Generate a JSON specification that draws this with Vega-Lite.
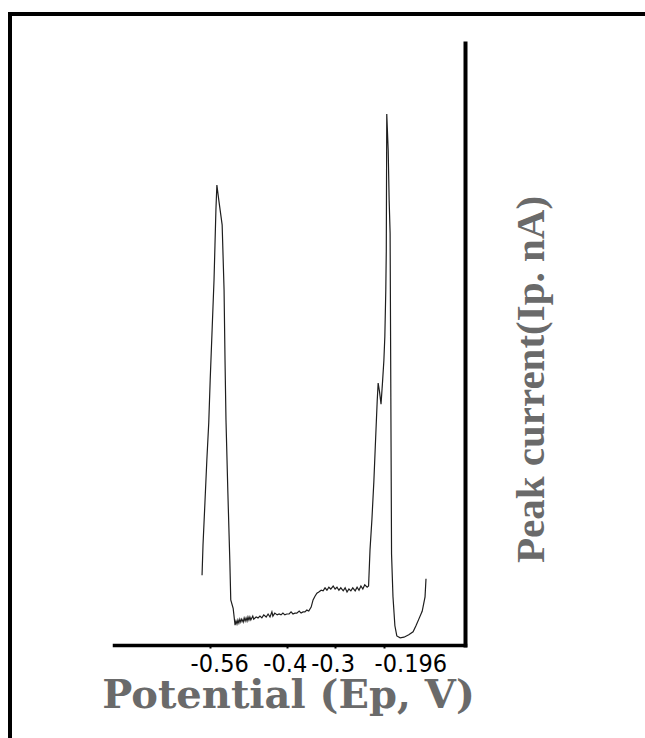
{
  "$schema": "https://vega.github.io/schema/vega-lite/v6.json",
  "autosize": "none",
  "padding": {"left": 10, "top": 14, "right": 0, "bottom": 0},
  "width": 635,
  "height": 724,
  "background": "white",
  "config": {
    "view": {
      "stroke": "black",
      "strokeWidth": 4,
      "strokeCap": "square",
      "strokeDash": [635, 1359, 724]
    }
  },
  "data": {
    "values": [
      {"ep": -0.577, "ip": 11.6}, {"ep": -0.575, "ip": 16.6}, {"ep": -0.571, "ip": 23.6},
      {"ep": -0.567, "ip": 30.7}, {"ep": -0.563, "ip": 36.9}, {"ep": -0.560, "ip": 44.0},
      {"ep": -0.556, "ip": 52.3}, {"ep": -0.552, "ip": 60.6}, {"ep": -0.550, "ip": 66.4},
      {"ep": -0.548, "ip": 72.3}, {"ep": -0.546, "ip": 76.4}, {"ep": -0.542, "ip": 73.9},
      {"ep": -0.535, "ip": 69.8}, {"ep": -0.531, "ip": 59.0}, {"ep": -0.529, "ip": 47.3},
      {"ep": -0.527, "ip": 37.4}, {"ep": -0.523, "ip": 25.2}, {"ep": -0.519, "ip": 14.1},
      {"ep": -0.517, "ip": 7.5}, {"ep": -0.512, "ip": 6.1}, {"ep": -0.508, "ip": 3.3},
      {"ep": -0.506, "ip": 4.0}, {"ep": -0.504, "ip": 3.5}, {"ep": -0.502, "ip": 4.15},
      {"ep": -0.500, "ip": 3.65}, {"ep": -0.498, "ip": 4.3}, {"ep": -0.496, "ip": 3.8},
      {"ep": -0.494, "ip": 4.3}, {"ep": -0.491, "ip": 3.8}, {"ep": -0.489, "ip": 4.5},
      {"ep": -0.487, "ip": 4.0}, {"ep": -0.485, "ip": 4.5}, {"ep": -0.483, "ip": 4.0},
      {"ep": -0.481, "ip": 4.65}, {"ep": -0.479, "ip": 4.15}, {"ep": -0.477, "ip": 4.65},
      {"ep": -0.475, "ip": 4.15}, {"ep": -0.471, "ip": 4.8}, {"ep": -0.469, "ip": 4.3},
      {"ep": -0.464, "ip": 4.65}, {"ep": -0.460, "ip": 4.5}, {"ep": -0.456, "ip": 4.8},
      {"ep": -0.452, "ip": 4.5}, {"ep": -0.448, "ip": 5.0}, {"ep": -0.443, "ip": 4.65},
      {"ep": -0.439, "ip": 5.15}, {"ep": -0.435, "ip": 4.65}, {"ep": -0.431, "ip": 5.5},
      {"ep": -0.429, "ip": 4.8}, {"ep": -0.425, "ip": 5.3}, {"ep": -0.420, "ip": 5.0},
      {"ep": -0.416, "ip": 5.15}, {"ep": -0.412, "ip": 5.0}, {"ep": -0.408, "ip": 5.3},
      {"ep": -0.404, "ip": 5.0}, {"ep": -0.400, "ip": 5.15}, {"ep": -0.395, "ip": 5.15},
      {"ep": -0.391, "ip": 5.5}, {"ep": -0.387, "ip": 5.15}, {"ep": -0.383, "ip": 5.3},
      {"ep": -0.379, "ip": 5.3}, {"ep": -0.374, "ip": 5.65}, {"ep": -0.370, "ip": 5.3},
      {"ep": -0.366, "ip": 5.5}, {"ep": -0.362, "ip": 5.5}, {"ep": -0.358, "ip": 5.8},
      {"ep": -0.354, "ip": 5.65}, {"ep": -0.349, "ip": 6.3}, {"ep": -0.345, "ip": 7.5},
      {"ep": -0.341, "ip": 8.1}, {"ep": -0.337, "ip": 8.6}, {"ep": -0.333, "ip": 8.8},
      {"ep": -0.328, "ip": 9.1}, {"ep": -0.324, "ip": 9.0}, {"ep": -0.320, "ip": 9.5},
      {"ep": -0.316, "ip": 9.1}, {"ep": -0.312, "ip": 9.6}, {"ep": -0.308, "ip": 9.3},
      {"ep": -0.303, "ip": 9.8}, {"ep": -0.299, "ip": 9.3}, {"ep": -0.295, "ip": 9.6},
      {"ep": -0.291, "ip": 9.1}, {"ep": -0.287, "ip": 9.5}, {"ep": -0.282, "ip": 9.0},
      {"ep": -0.278, "ip": 9.5}, {"ep": -0.274, "ip": 8.8}, {"ep": -0.270, "ip": 9.3},
      {"ep": -0.266, "ip": 9.0}, {"ep": -0.262, "ip": 9.5}, {"ep": -0.257, "ip": 9.0},
      {"ep": -0.253, "ip": 9.6}, {"ep": -0.249, "ip": 9.1}, {"ep": -0.245, "ip": 9.8},
      {"ep": -0.241, "ip": 9.3}, {"ep": -0.237, "ip": 10.0}, {"ep": -0.232, "ip": 9.6},
      {"ep": -0.229, "ip": 9.8}, {"ep": -0.226, "ip": 15.8}, {"ep": -0.222, "ip": 20.9},
      {"ep": -0.218, "ip": 27.1}, {"ep": -0.215, "ip": 32.9}, {"ep": -0.211, "ip": 40.5},
      {"ep": -0.209, "ip": 43.5}, {"ep": -0.206, "ip": 42.0}, {"ep": -0.203, "ip": 40.0},
      {"ep": -0.200, "ip": 43.5}, {"ep": -0.197, "ip": 47.3}, {"ep": -0.195, "ip": 51.3},
      {"ep": -0.193, "ip": 59.0}, {"ep": -0.192, "ip": 65.4}, {"ep": -0.191, "ip": 88.2},
      {"ep": -0.188, "ip": 82.2}, {"ep": -0.186, "ip": 73.9}, {"ep": -0.184, "ip": 68.4},
      {"ep": -0.182, "ip": 32.9}, {"ep": -0.181, "ip": 15.1}, {"ep": -0.178, "ip": 8.0},
      {"ep": -0.174, "ip": 3.2}, {"ep": -0.170, "ip": 1.5}, {"ep": -0.163, "ip": 1.2},
      {"ep": -0.155, "ip": 1.3}, {"ep": -0.145, "ip": 1.7}, {"ep": -0.136, "ip": 2.2},
      {"ep": -0.130, "ip": 3.2}, {"ep": -0.124, "ip": 4.3}, {"ep": -0.117, "ip": 5.6},
      {"ep": -0.111, "ip": 8.0}, {"ep": -0.109, "ip": 11.0}
    ]
  },
  "mark": {"type": "line", "color": "#1e1e1e", "strokeWidth": 1.2, "clip": false},
  "encoding": {
    "x": {
      "field": "ep",
      "type": "quantitative",
      "scale": {"domain": [-0.761, -0.0275], "range": [104, 455], "nice": false, "zero": false},
      "axis": {
        "orient": "bottom",
        "offset": -93,
        "values": [-0.56, -0.4, -0.3, -0.196],
        "labelExpr": "'-' + format(abs(datum.value), '.3~f')",
        "grid": false,
        "domainColor": "black",
        "domainWidth": 3.5,
        "domainCap": "square",
        "tickColor": "black",
        "tickSize": 3,
        "tickWidth": 2,
        "labelFont": "DejaVu Sans Condensed, Liberation Sans, sans-serif",
        "labelFontSize": 25,
        "labelColor": "black",
        "labelPadding": 3,
        "labelFlush": false,
        "labelOverlap": false,
        "labelOffset": {
          "condition": [
            {"test": "datum.value < -0.5", "value": 9},
            {"test": "datum.value > -0.25", "value": 26}
          ],
          "value": -2
        },
        "title": "Potential (Ep, V)",
        "titleFont": "DejaVu Serif",
        "titleFontWeight": "bold",
        "titleFontSize": 40,
        "titleColor": "#6a6a6a",
        "titleAlign": "center",
        "titleBaseline": "alphabetic",
        "titleX": 278,
        "titleY": 62
      }
    },
    "y": {
      "field": "ip",
      "type": "quantitative",
      "scale": {"domain": [0, 100], "range": [631, 29], "nice": false},
      "axis": {
        "orient": "right",
        "offset": -180,
        "grid": false,
        "ticks": false,
        "labels": false,
        "domainColor": "black",
        "domainWidth": 4,
        "domainCap": "square",
        "title": "Peak current(Ip. nA)",
        "titleFont": "Liberation Serif",
        "titleFontWeight": "bold",
        "titleFontSize": 41,
        "titleColor": "#6a6a6a",
        "titleAngle": 270,
        "titleAlign": "center",
        "titleBaseline": "alphabetic",
        "titleX": 78,
        "titleY": 365
      }
    }
  }
}
